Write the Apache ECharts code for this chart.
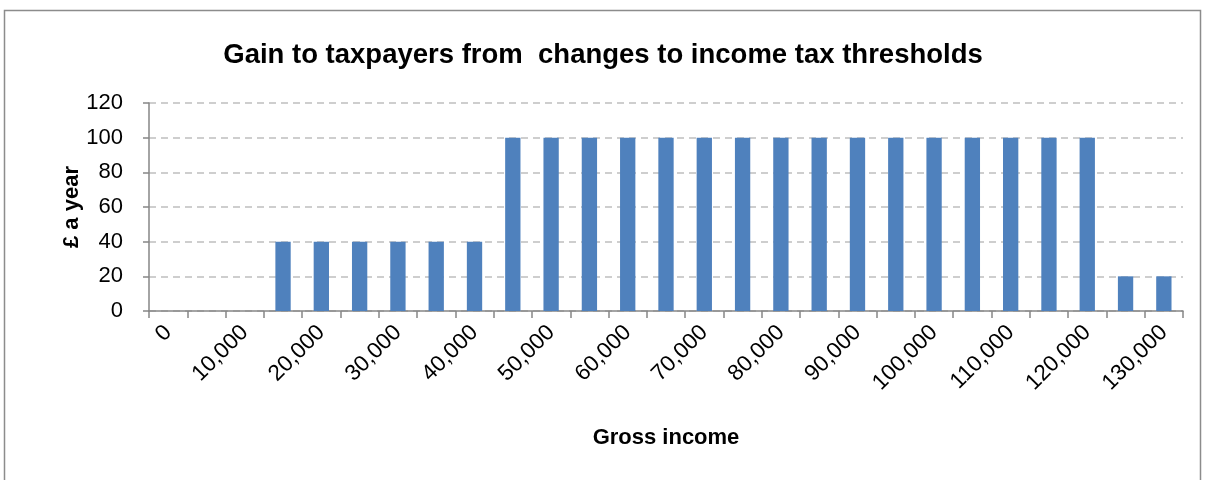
<!DOCTYPE html>
<html>
<head>
<meta charset="utf-8">
<script src="https://cdn.jsdelivr.net/npm/echarts@6/dist/echarts.min.js"></script>
<style>
html,body{margin:0;padding:0;background:#fff;}
#c{width:1206px;height:480px;}
</style>
</head>
<body>
<div id="c"></div>
<script>
const incomes = [0,5000,10000,15000,20000,25000,30000,35000,40000,45000,50000,55000,60000,65000,70000,75000,80000,85000,90000,95000,100000,105000,110000,115000,120000,125000,130000];
const gains = [0,0,0,40,40,40,40,40,40,100,100,100,100,100,100,100,100,100,100,100,100,100,100,100,100,20,20];
const yTicks = [0,20,40,60,80,100,120];
const titleText = 'Gain to taxpayers from  changes to income tax thresholds';

const chart = echarts.init(document.getElementById('c'));
const font = 'Liberation Sans, Arial, sans-serif';
chart.setOption({
  animation: false,
  backgroundColor: '#fff',
  title: {
    text: titleText, left: 'center', top: 36,
    textStyle: {fontFamily: font, fontWeight: 'bold', fontSize: 27.5, color: '#000'}
  },
  graphic: [{
    type: 'rect', shape: {x: 4.5, y: 10.5, width: 1196, height: 480},
    style: {fill: 'none', stroke: '#8c8c8c', lineWidth: 1.5}, silent: true
  }],
  grid: {left: 149, right: 23, top: 103, bottom: 169},
  xAxis: {
    type: 'category',
    data: incomes.map(v => v.toLocaleString('en-US')),
    name: 'Gross income', nameLocation: 'middle', nameGap: 116, nameMoveOverlap: false,
    nameTextStyle: {fontFamily: font, fontWeight: 'bold', fontSize: 22, color: '#000'},
    axisLine: {lineStyle: {color: '#868686', width: 1.5}},
    axisTick: {show: true, length: 7, interval: 0, lineStyle: {color: '#868686', width: 1.5}},
    axisLabel: {interval: 1, rotate: 45, margin: 18, fontFamily: font, fontSize: 22.5, color: '#000'}
  },
  yAxis: {
    type: 'value', min: 0, max: 120, interval: 20,
    name: '£ a year', nameLocation: 'middle', nameGap: 66, nameMoveOverlap: false,
    nameTextStyle: {fontFamily: font, fontWeight: 'bold', fontSize: 22, color: '#000'},
    axisLine: {show: true, lineStyle: {color: '#868686', width: 1.5}},
    axisTick: {show: true, length: 6, lineStyle: {color: '#868686', width: 1.5}},
    axisLabel: {margin: 26, fontFamily: font, fontSize: 22, color: '#000',
      formatter: v => yTicks.includes(v) ? String(v) : ''},
    splitLine: {lineStyle: {color: '#bfbfbf', type: [7, 5], width: 1.5}}
  },
  series: [{
    type: 'bar', data: gains, barWidth: '40%',
    itemStyle: {color: '#4f81bd'}
  }]
});
</script>
</body>
</html>
